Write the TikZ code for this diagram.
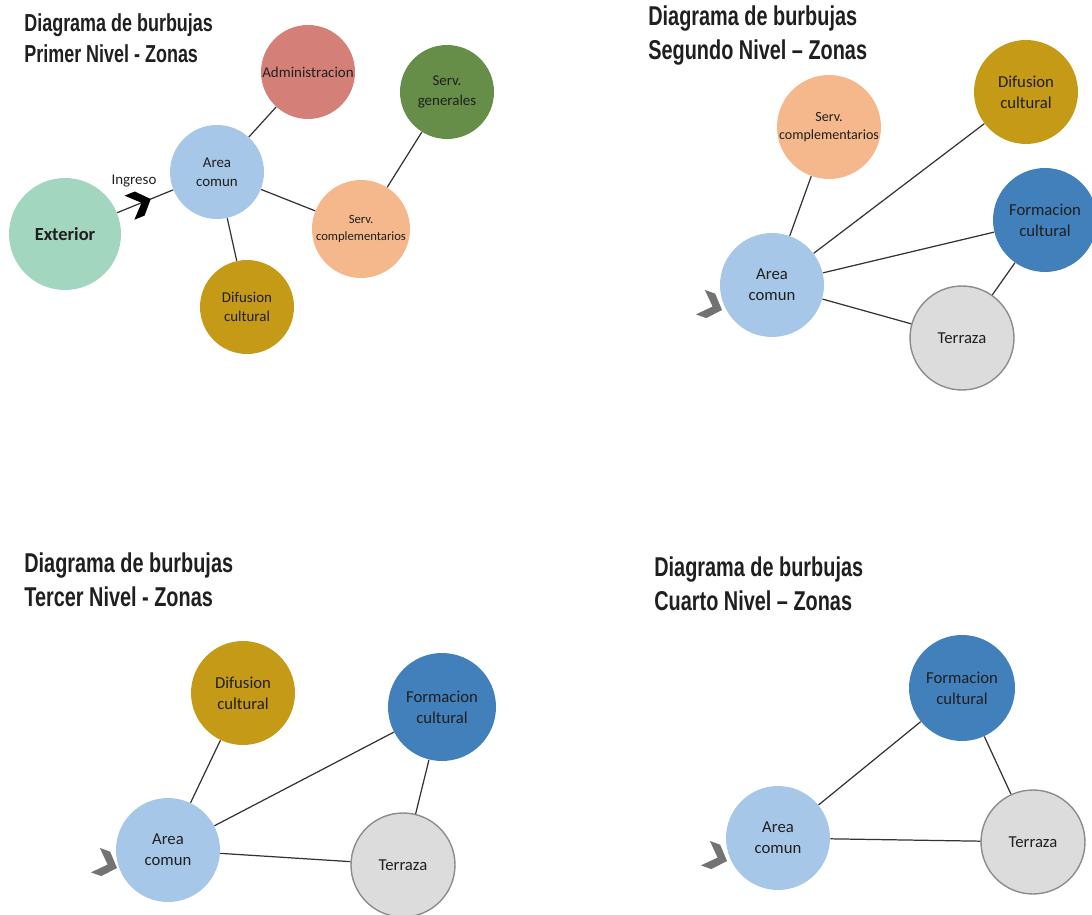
\documentclass[tikz,border=0pt]{standalone}
\usepackage{fontspec}
\setmainfont{Carlito}
\newfontfamily\titulofont[FakeStretch=0.73]{Liberation Sans}
\usepackage{tikz}

\definecolor{cAzul}{RGB}{167,199,232}
\definecolor{cAdmin}{RGB}{212,128,120}
\definecolor{cGenerales}{RGB}{102,142,72}
\definecolor{cComple}{RGB}{244,184,140}
\definecolor{cExterior}{RGB}{163,214,190}
\definecolor{cDifusion}{RGB}{196,154,22}
\definecolor{cFormacion}{RGB}{66,128,188}
\definecolor{cTerraza}{RGB}{220,220,220}

\begin{document}
\begin{tikzpicture}[
    x=0.02cm, y=-0.02cm,
    every node/.style={text=black!88},
    titulo/.style={anchor=north west, inner sep=0pt, align=left, font=\titulofont\bfseries\fontsize{15.5}{19.8}\selectfont},
    zona/.style={circle, inner sep=0pt, align=center, font=\fontsize{9.5}{12}\selectfont},
    chica/.style={zona, minimum size=1.88cm, font=\fontsize{8.5}{11}\selectfont},
    grande/.style={zona, minimum size=2.08cm},
    terraza/.style={grande, fill=cTerraza, draw=black!45, line width=0.8pt},
    enlace/.style={draw=black!80, line width=0.7pt},
    entrada/.pic={\fill (0,0) -- (-12,-13) -- (-23,-13) -- (-10,0) -- (-23,13) -- (-12,13) -- cycle;},
    gris/.style={fill=black!55},
]
\useasboundingbox (0,0) rectangle (1092,915);

% Primer nivel
\node[titulo, font=\titulofont\bfseries\fontsize{14}{17.6}\selectfont] (tit1) at (24,13) {Diagrama de burbujas\\Primer Nivel - Zonas};
\node[chica, fill=cAdmin] (admin1) at (308,72) {Administracion};
\node[chica, fill=cGenerales] (gen1) at (447,92) {Serv.\\generales};
\node[chica, fill=cAzul] (area1) at (217,172) {Area\\comun};
\node[chica, minimum size=1.96cm, fill=cComple, font=\fontsize{7.2}{9.5}\selectfont] (comp1) at (361,229) {Serv.\\complementarios};
\node[zona, minimum size=2.24cm, fill=cExterior, font=\bfseries\fontsize{10.5}{12}\selectfont] (ext1) at (65,234) {Exterior};
\node[chica, fill=cDifusion] (dif1) at (247,307) {Difusion\\cultural};

\draw[enlace] (area1) -- (admin1);
\draw[enlace] (area1) -- (comp1);
\draw[enlace] (area1) -- (dif1);
\draw[enlace] (comp1) -- (gen1);
\draw[enlace] (ext1) -- node[pos=0.3, above=7pt, font=\fontsize{8.5}{10}\selectfont] {Ingreso}
    pic[pos=0.6, sloped, fill=black] {entrada} (area1);

% Segundo nivel
\node[titulo] (tit2) at (648,5) {Diagrama de burbujas\\Segundo Nivel \textendash{} Zonas};
\node[grande, fill=cComple, font=\fontsize{8}{10}\selectfont] (comp2) at (829,127) {Serv.\\complementarios};
\node[grande, fill=cDifusion] (dif2) at (1026,92) {Difusion\\cultural};
\node[grande, fill=cFormacion] (form2) at (1045,220) {Formacion\\cultural};
\node[grande, fill=cAzul] (area2) at (772,285) {Area\\comun};
\node[terraza] (terr2) at (962,338) {Terraza};
\pic[gris, rotate=-20] at (722,310) {entrada};

\draw[enlace] (area2) -- (comp2);
\draw[enlace] (area2) -- (dif2);
\draw[enlace] (area2) -- (form2);
\draw[enlace] (area2) -- (terr2);
\draw[enlace] (form2) -- (terr2);

% Tercer nivel
\node[titulo] (tit3) at (24,552) {Diagrama de burbujas\\Tercer Nivel - Zonas};
\node[grande, fill=cDifusion] (dif3) at (243,693) {Difusion\\cultural};
\node[grande, fill=cFormacion, minimum size=2.16cm] (form3) at (442,707) {Formacion\\cultural};
\node[grande, fill=cAzul] (area3) at (168,850) {Area\\comun};
\node[terraza] (terr3) at (403,865) {Terraza};
\pic[gris, rotate=-20] at (117,868) {entrada};

\draw[enlace] (area3) -- (dif3);
\draw[enlace] (area3) -- (form3);
\draw[enlace] (area3) -- (terr3);
\draw[enlace] (form3) -- (terr3);

% Cuarto nivel
\node[titulo] (tit4) at (654,556) {Diagrama de burbujas\\Cuarto Nivel \textendash{} Zonas};
\node[grande, fill=cFormacion, minimum size=2.12cm] (form4) at (962,688) {Formacion\\cultural};
\node[grande, fill=cAzul] (area4) at (778,838) {Area\\comun};
\node[terraza] (terr4) at (1033,842) {Terraza};
\pic[gris, rotate=-20] at (727,861) {entrada};

\draw[enlace] (area4) -- (form4);
\draw[enlace] (area4) -- (terr4);
\draw[enlace] (form4) -- (terr4);
\end{tikzpicture}
\end{document}
